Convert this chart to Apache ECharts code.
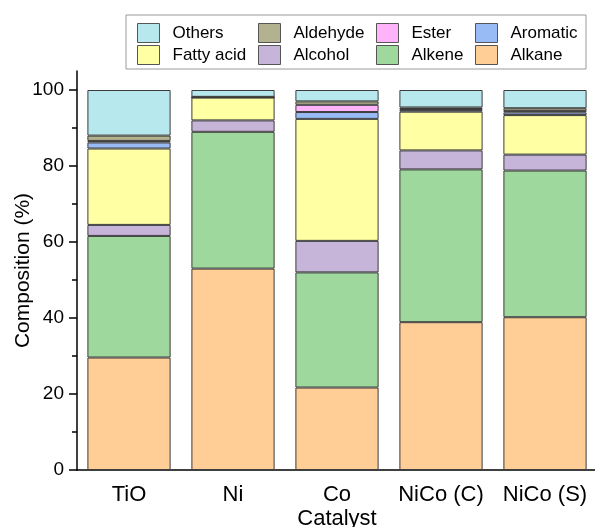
<!DOCTYPE html>
<html><head><meta charset="utf-8">
<script src="https://cdn.jsdelivr.net/npm/echarts@6/dist/echarts.min.js"></script>
<style>html,body{margin:0;padding:0;background:#fff}#c{width:595px;height:527px}</style>
</head><body><div id="c"></div>
<script>
const categories = ['TiO', 'Ni', 'Co', 'NiCo (C)', 'NiCo (S)'];
const alkane    = [29.6, 53.0, 21.7, 38.9, 40.2];
const alkene    = [32.0, 36.0, 30.3, 40.2, 38.6];
const alcohol   = [2.9, 3.0, 8.3, 5.0, 4.2];
const fattyAcid = [20.1, 6.0, 32.1, 10.2, 10.4];
const aromatic  = [1.6, 0.1, 1.8, 0.4, 0.7];
const ester     = [0.4, 0.0, 1.9, 0.3, 0.4];
const aldehyde  = [1.4, 0.1, 0.9, 0.4, 0.7];
const others    = [12.0, 1.8, 3.0, 4.6, 4.8];
const yTickValues = [0, 20, 40, 60, 80, 100];
const yMinorTickValues = [10, 30, 50, 70, 90];

const FONT = "'Liberation Sans', Arial, sans-serif";
const seriesDefs = [
  ['Alkane', alkane, '#FFCE96'],
  ['Alkene', alkene, '#9ED89C'],
  ['Alcohol', alcohol, '#C6B5D8'],
  ['Fatty acid', fattyAcid, '#FFFFA3'],
  ['Aromatic', aromatic, '#99BBF5'],
  ['Ester', ester, '#FFB3FA'],
  ['Aldehyde', aldehyde, '#B2B28E'],
  ['Others', others, '#B6E8EE']
];
const series = seriesDefs.map(([name, data, color]) => ({
  name, type: 'bar', stack: 'total', data, barWidth: '80%',
  xAxisIndex: 0, yAxisIndex: 0,
  itemStyle: { color, borderColor: '#3c3c3c', borderWidth: 1 },
  emphasis: { disabled: true }
}));

// legend layout: [name, swatchLeft, swatchTop]
const legendLayout = [
  ['Others', 137, 23], ['Aldehyde', 258, 23], ['Ester', 376, 23], ['Aromatic', 475, 23],
  ['Fatty acid', 137, 45], ['Alcohol', 258, 45], ['Alkene', 376, 45], ['Alkane', 475, 45]
];
const legends = legendLayout.map(([name, left, top]) => ({
  data: [name], left, top, padding: 0, itemWidth: 22, itemHeight: 19,
  icon: 'rect', selectedMode: false,
  itemStyle: { borderColor: '#555', borderWidth: 1 },
  textStyle: { fontFamily: FONT, fontSize: 17, color: '#000', padding: [0, 0, 0, 8] }
}));

const chart = echarts.init(document.getElementById('c'), null, { renderer: 'canvas' });
chart.setOption({
  animation: false,
  backgroundColor: '#fff',
  grid: { left: 77, top: 71, bottom: 57, width: 520, containLabel: false, outerBoundsMode: 'none' },
  legend: legends,
  graphic: [{
    type: 'rect', shape: { x: 126, y: 15, width: 460, height: 54 },
    style: { fill: 'none', stroke: '#9a9a9a', lineWidth: 1 }, z: 10
  }],
  xAxis: [{
    type: 'category', data: categories, position: 'bottom',
    name: 'Catalyst', nameLocation: 'middle', nameGap: 38, nameMoveOverlap: false,
    nameTextStyle: { fontFamily: FONT, fontSize: 22, color: '#000' },
    axisLine: { lineStyle: { color: '#000', width: 1.5 } },
    axisTick: { alignWithLabel: true, length: 8, lineStyle: { color: '#000', width: 1.5 } },
    axisLabel: { fontFamily: FONT, fontSize: 22, color: '#000', margin: 14, interval: 0, hideOverlap: false },
    splitLine: { show: false }
  }, {
    type: 'category', data: categories, position: 'bottom', gridIndex: 0,
    axisLine: { show: false },
    axisTick: { length: 4, interval: 0, lineStyle: { color: '#000', width: 1.5 } },
    axisLabel: { show: false }, splitLine: { show: false }
  }],
  yAxis: [{
    type: 'value', min: 0, max: 105, position: 'left',
    name: 'Composition (%)', nameLocation: 'middle', nameGap: 43, nameMoveOverlap: false,
    nameTextStyle: { fontFamily: FONT, fontSize: 21, color: '#000' },
    axisLine: { show: true, lineStyle: { color: '#000', width: 1.5 } },
    axisTick: { show: true, length: 8, customValues: yTickValues, lineStyle: { color: '#000', width: 1.5 } },
    axisLabel: { fontFamily: FONT, fontSize: 19, color: '#000', margin: 13, customValues: yTickValues },
    splitLine: { show: false }
  }, {
    type: 'value', min: 0, max: 105, position: 'left', gridIndex: 0,
    axisLine: { show: false },
    axisTick: { show: true, length: 5, customValues: yMinorTickValues, lineStyle: { color: '#000', width: 1.5 } },
    axisLabel: { show: false }, splitLine: { show: false }
  }],
  series
});
</script></body></html>
